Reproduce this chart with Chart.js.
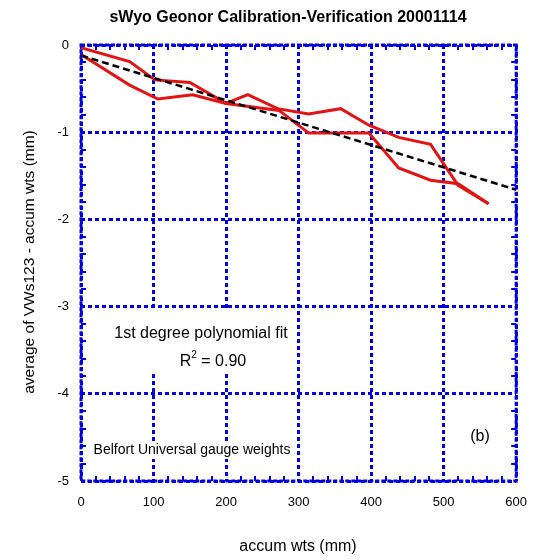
<!DOCTYPE html>
<html><head><meta charset="utf-8">
<script src="https://cdn.jsdelivr.net/npm/chart.js@4.4.0/dist/chart.umd.min.js"></script>
<style>html,body{margin:0;padding:0;background:#fff;} #wrap{width:541px;height:560px;}</style>
</head><body><div id="wrap"><canvas id="c" width="541" height="560"></canvas></div>
<script>
// ---- text ----
const titleText = 'sWyo Geonor Calibration-Verification 20001114';
const xAxisTitle = 'accum wts (mm)';
const yAxisTitle = 'average of VWs123 - accum wts (mm)';
const fitLabel = '1st degree polynomial fit';
const r2Value = '0.90';
const noteText = 'Belfort Universal gauge weights';
const panelLabel = '(b)';

// ---- axes ----
const xMin = 0, xMax = 600, xStep = 100, xMinorStep = 20;
const yMin = -5, yMax = 0, yStep = 1, yMinorStep = 0.2;

// ---- data ----
const runAx = [0, 67, 102, 150, 200, 230, 271, 314, 358, 397, 438, 482, 520, 562];
const runAy = [-0.03, -0.19, -0.40, -0.43, -0.67, -0.57, -0.73, -0.79, -0.73, -0.92, -1.06, -1.14, -1.61, -1.82];
const runBx = [0, 67, 106, 154, 200, 273, 314, 397, 438, 482, 520, 562];
const runBy = [-0.11, -0.46, -0.62, -0.57, -0.67, -0.75, -1.01, -1.01, -1.41, -1.55, -1.59, -1.82];
const fitX = [0, 600];
const fitY = [-0.12, -1.66];

const BLUE = '#0000dd';
const RED = '#e01414';
const FONT = '"Liberation Sans", Arial, Helvetica, sans-serif';

function pts(xs, ys){ return xs.map((x,i)=>({x:x, y:ys[i]})); }

const decor = {
  id: 'decor',
  afterDraw(chart){
    const ctx = chart.ctx, a = chart.chartArea;
    const xs = chart.scales.x, ys = chart.scales.y;
    ctx.save();
    // minor ticks, inward on all four sides
    ctx.strokeStyle = BLUE; ctx.lineWidth = 2; ctx.setLineDash([]);
    const tl = 5;
    for (let v = xMin + xMinorStep; v < xMax - 1e-9; v += xMinorStep){
      if (Math.abs(v / xStep - Math.round(v / xStep)) < 1e-6) continue;
      const px = Math.round(xs.getPixelForValue(v));
      ctx.beginPath(); ctx.moveTo(px, a.bottom); ctx.lineTo(px, a.bottom - tl); ctx.stroke();
      ctx.beginPath(); ctx.moveTo(px, a.top); ctx.lineTo(px, a.top + tl); ctx.stroke();
    }
    for (let k = 1; k < Math.round((yMax - yMin) / yMinorStep); k++){
      const v = yMin + k * yMinorStep;
      if (Math.abs(v / yStep - Math.round(v / yStep)) < 1e-6) continue;
      const py = Math.round(ys.getPixelForValue(v));
      ctx.beginPath(); ctx.moveTo(a.left, py); ctx.lineTo(a.left + tl, py); ctx.stroke();
      ctx.beginPath(); ctx.moveTo(a.right, py); ctx.lineTo(a.right - tl, py); ctx.stroke();
    }
    // frame
    ctx.lineWidth = 3; ctx.setLineDash([4,2]);
    ctx.strokeRect(a.left, a.top, a.right - a.left, a.bottom - a.top);
    ctx.setLineDash([]);

    // annotation boxes
    ctx.fillStyle = '#fff';
    ctx.fillRect(105, 310, 190, 64);
    ctx.fillRect(89, 441, 206, 18);
    ctx.fillStyle = '#000';
    ctx.textBaseline = 'middle'; ctx.textAlign = 'center';
    ctx.font = '16px ' + FONT;
    ctx.fillText(fitLabel, 201, 334);
    // R^2 line
    const rA = 'R', rB = ' = ' + r2Value;
    ctx.font = '16px ' + FONT; const wA = ctx.measureText(rA).width, wB = ctx.measureText(rB).width;
    ctx.font = '10px ' + FONT; const w2 = ctx.measureText('2').width;
    let sx = 213 - (wA + w2 + wB) / 2;
    ctx.textAlign = 'left';
    ctx.font = '16px ' + FONT; ctx.fillText(rA, sx, 362);
    ctx.font = '10px ' + FONT; ctx.fillText('2', sx + wA, 355);
    ctx.font = '16px ' + FONT; ctx.fillText(rB, sx + wA + w2, 362);
    // note
    ctx.textAlign = 'center';
    ctx.font = '14px ' + FONT; ctx.fillText(noteText, 192, 450);
    ctx.font = '16px ' + FONT; ctx.fillText(panelLabel, 480, 437);

    // titles
    ctx.font = 'bold 16px ' + FONT; ctx.fillText(titleText, 288, 18);
    ctx.font = '16px ' + FONT; ctx.fillText(xAxisTitle, 298, 547);
    ctx.save(); ctx.translate(30, 262); ctx.rotate(-Math.PI/2);
    ctx.font = '15.5px ' + FONT;
    ctx.fillText(yAxisTitle, 0, 0); ctx.restore();
    ctx.restore();
  }
};

new Chart(document.getElementById('c'), {
  type: 'scatter',
  data: {
    datasets: [
      { data: pts(fitX, fitY), showLine: true, borderColor: '#000', borderWidth: 2.5, borderDash: [7,4], pointRadius: 0, fill: false, tension: 0, order: 0 },
      { data: pts(runAx, runAy), showLine: true, borderColor: RED, borderWidth: 3, pointRadius: 0, fill: false, tension: 0, order: 1 },
      { data: pts(runBx, runBy), showLine: true, borderColor: RED, borderWidth: 3, pointRadius: 0, fill: false, tension: 0, order: 1 }
    ]
  },
  options: {
    responsive: false, animation: false, devicePixelRatio: 1,
    layout: { padding: { top: 45, right: 23, bottom: 0, left: 0 } },
    plugins: { legend: { display: false }, tooltip: { enabled: false }, title: { display: false } },
    scales: {
      x: {
        type: 'linear', min: xMin, max: xMax,
        ticks: { stepSize: xStep, color: '#000', font: { family: FONT, size: 13 }, padding: 14, maxRotation: 0 },
        grid: { color: BLUE, lineWidth: 3, drawTicks: false },
        border: { display: false, dash: [4,3] },
        afterFit(s){ s.height = 79; }
      },
      y: {
        type: 'linear', min: yMin, max: yMax,
        ticks: { stepSize: yStep, color: '#000', font: { family: FONT, size: 13 }, padding: 12 },
        grid: { color: BLUE, lineWidth: 3, drawTicks: false },
        border: { display: false, dash: [4,3] },
        afterFit(s){ s.width = 81; }
      }
    }
  },
  plugins: [decor]
});
</script></body></html>
